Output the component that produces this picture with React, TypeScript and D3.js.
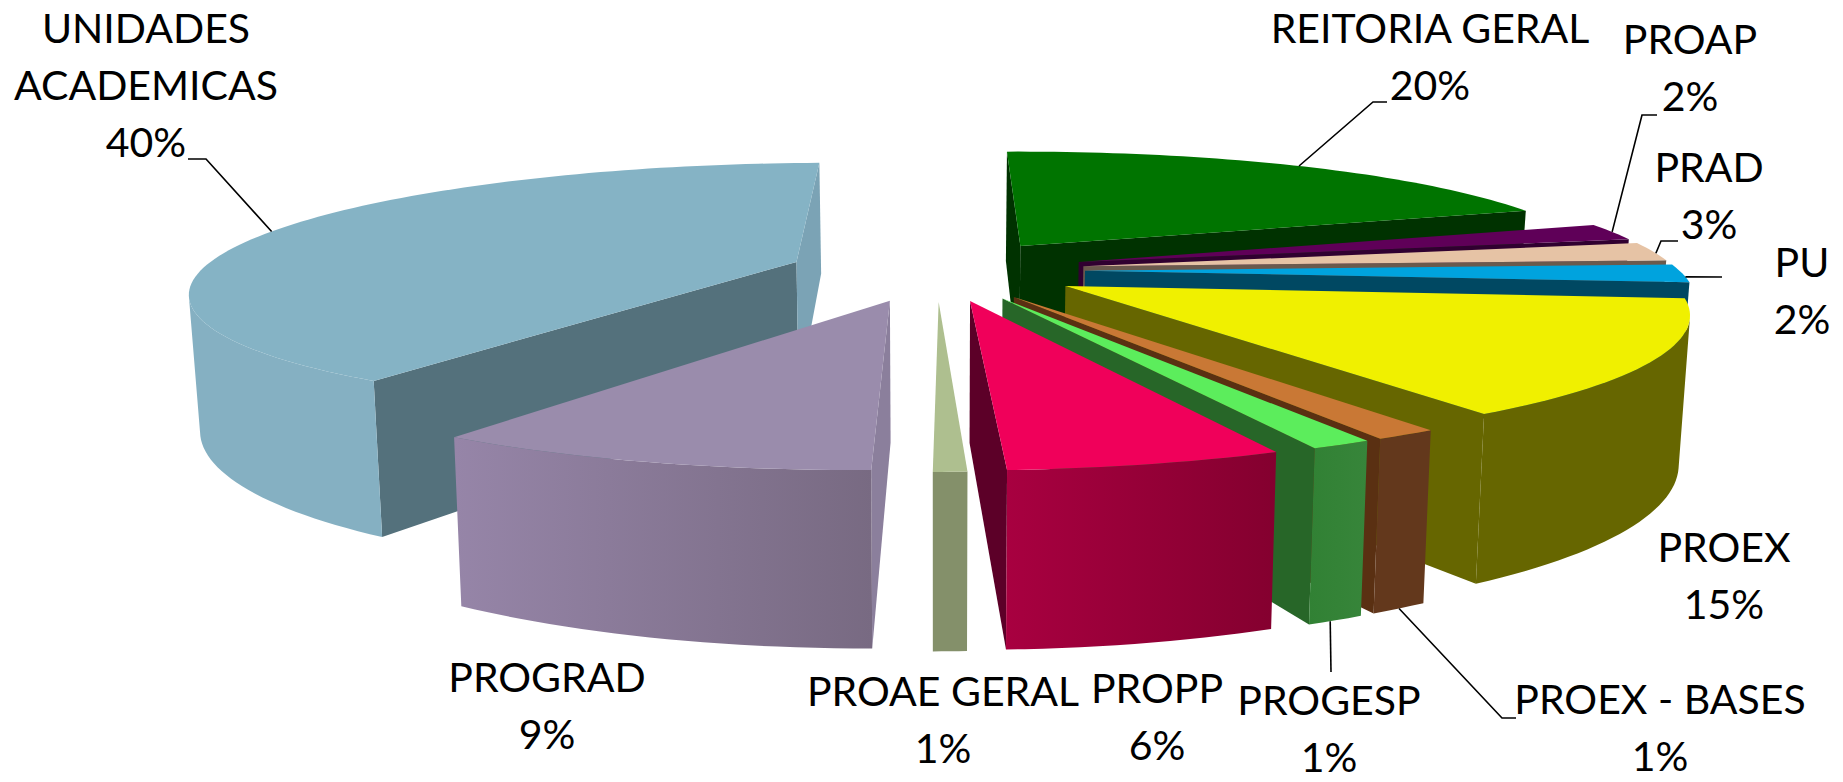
import React from "react";
import * as d3 from "d3";

const categories = ["REITORIA GERAL","PROAP","PRAD","PU","PROEX","PROEX - BASES","PROGESP","PROPP","PROAE GERAL","PROGRAD","UNIDADES ACADEMICAS"];
const percentLabels = ["20%","2%","3%","2%","15%","1%","1%","6%","1%","9%","40%"];
// Slice sizes as measured on the drawn circle
const values = [20,2.2,2.4,2.3,14.11,1.36,1.3,5.76,0.7,9.4,40.47];
const topColors = ["#007400","#5f0058","#e6c3a5","#00a3de","#f0f000","#c97835","#5ced5c","#f0005a","#aebf8f","#9a8cac","#85b3c5"];
const wallStart = ["#005000","#400040","#6b5a4d","#004862","#666600","#63381c","#318134","#a80040","#84906a","#9685a8","#85b0c2"];
const wallEnd   = ["#005000","#400040","#6b5a4d","#004862","#666600","#63381c","#37853a","#84002f","#84906a","#786a82","#85b0c2"];
const faceStart = ["#003200","#300030","#6b5a4d","#004862","#666600","#5a3012","#276628","#5c0028","#84906a","#8b7f9c","#7ba3b5"];
const faceEnd   = ["#003200","#300030","#6b5a4d","#004862","#666600","#5a3012","#276628","#5c0028","#84906a","#8b7f9c","#54717c"];

const labelLines = [["REITORIA GERAL"],["PROAP"],["PRAD"],["PU"],["PROEX"],["PROEX - BASES"],["PROGESP"],["PROPP"],["PROAE GERAL"],["PROGRAD"],["UNIDADES","ACADEMICAS"]];
const labelPos = [[1430,29],[1690,40],[1709,168],[1802,263],[1724,548],[1660,700],[1329,701],[1157,689],[943,692],[547,678],[146,29]];
const leaderFrac = [0.5,0.5,0.6,0.7,null,0.5,0.6,null,null,null,0.5];
const leaderBottom = [false,false,false,false,false,true,true,false,false,false,false];
const leaderElbows: number[][][] = [
  [[1373,102],[1387,102]],[[1642,115],[1657,115]],[[1661,241],[1678,241]],[[1722,277]],[],
  [[1502,718],[1516,718]],[[1331,672]],[],[],[],[[206,159],[188,159]],
];

const W = 1843, H = 782;
const CX = 936.5, HORIZON = -344, YC = 270, A = 594, L = 5.05, YAW = 0.005, EXPLODE = 0.25, HEIGHT = 135, HEIGHT_SKEW = 0.025, TAPER = 0.985;

const pieGen = d3.pie<number>().sort(null).startAngle(0).endAngle(2 * Math.PI);
const arcs = pieGen(values);
const line = d3.line<number[]>().x(d => d[0]).y(d => d[1]);

const depth = (X: number, Z: number) => 1 / (1 - Z / L + YAW * X);
function top(X: number, Z: number) {
  const t = depth(X, Z);
  return [CX + A * X * t, HORIZON + (YC - HORIZON) * t];
}
function bottom(X: number, Z: number) {
  const t = depth(X, Z);
  return [CX + A * X * t * TAPER, HORIZON + (YC - HORIZON) * t + HEIGHT * t * (1 + HEIGHT_SKEW * X)];
}
const closed = (pts: number[][]) => line(pts) + "Z";

function sliceGeom(i: number) {
  const a0 = arcs[i].startAngle, a1 = arcs[i].endAngle, mid = (a0 + a1) / 2;
  const ox = EXPLODE * Math.sin(mid), oz = -EXPLODE * Math.cos(mid);
  const rim = (a: number) => [ox + Math.sin(a), oz - Math.cos(a)];
  const n = Math.max(4, Math.ceil((a1 - a0) * 40));
  const angles = d3.range(n + 1).map(k => a0 + (a1 - a0) * k / n);
  const rimPts = angles.map(rim);
  const topFace = [top(ox, oz), ...rimPts.map(p => top(p[0], p[1]))];
  const facing: number[] = [];
  angles.forEach((a) => {
    const p = rim(a);
    const nx = Math.sin(a), nz = -Math.cos(a);
    if ((0 - p[0]) * nx + (L - p[1]) * nz > 0) facing.push(a);
  });
  const wall = facing.length > 1
    ? [...facing.map(a => top(...(rim(a) as [number, number]))), ...facing.slice().reverse().map(a => bottom(...(rim(a) as [number, number])))]
    : null;
  const side = (a: number, sign: number) => {
    const p = rim(a);
    const nx = sign * Math.cos(a), nz = sign * Math.sin(a);
    const vis = (0 - ox) * nx + (L - oz) * nz > 0;
    return vis ? [top(ox, oz), top(p[0], p[1]), bottom(p[0], p[1]), bottom(ox, oz)] : null;
  };
  return { mid, ox, oz, topFace, wall, startFace: side(a0, -1), endFace: side(a1, 1), rim };
}

const geoms = values.map((_, i) => sliceGeom(i));
const order = d3.range(values.length).sort((p, q) => geoms[p].oz - geoms[q].oz);

function bboxX(pts: number[][]) {
  return d3.extent(pts, d => d[0]) as [number, number];
}

export default function App() {
  const font = "Lato, 'Open Sans', sans-serif";
  return (
    <svg width={W} height={H} viewBox={`0 0 ${W} ${H}`} style={{ position: "absolute", left: 0, top: 0, background: "#fff" }}>
      <defs>
        {order.map(i => {
          const g = geoms[i];
          const ex = g.wall ? bboxX(g.wall) : [0, 1];
          return (
            <linearGradient key={i} id={`w${i}`} gradientUnits="userSpaceOnUse" x1={ex[0]} x2={ex[1]} y1={0} y2={0}>
              <stop offset="0" stopColor={wallStart[i]} /><stop offset="1" stopColor={wallEnd[i]} />
            </linearGradient>
          );
        })}
      </defs>
      {order.map(i => {
        const g = geoms[i];
        return (
          <g key={i}>
            {g.startFace && <path d={closed(g.startFace)} fill={faceEnd[i]} />}
            {g.endFace && <path d={closed(g.endFace)} fill={faceStart[i]} />}
            {g.wall && <path d={closed(g.wall)} fill={`url(#w${i})`} />}
            <path d={closed(g.topFace)} fill={topColors[i]} />
          </g>
        );
      })}
      {categories.map((_, i) => {
        const f = leaderFrac[i];
        if (f === null) return null;
        const a = arcs[i].startAngle + (arcs[i].endAngle - arcs[i].startAngle) * f;
        const p = geoms[i].rim(a);
        const tip = leaderBottom[i] ? bottom(p[0], p[1]) : top(p[0], p[1]);
        return <path key={i} d={line([tip, ...leaderElbows[i]]) as string} fill="none" stroke="#000" strokeWidth={1.6} />;
      })}
      {categories.map((_, i) => {
        const [x, y] = labelPos[i];
        const lines = [...labelLines[i], percentLabels[i]];
        return (
          <text key={i} x={x} y={y} textAnchor="middle" fontFamily={font} fontSize={41} fill="#000">
            {lines.map((s, k) => <tspan key={k} x={x} y={y + k * 57 + 14}>{s}</tspan>)}
          </text>
        );
      })}
    </svg>
  );
}
